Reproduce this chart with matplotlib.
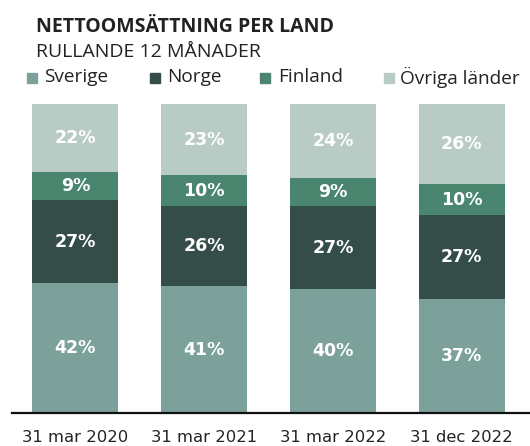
import matplotlib
matplotlib.use("Agg")
from matplotlib import pyplot as plt
from matplotlib.patches import Rectangle
import numpy as np

dates = ["31 mar 2020", "31 mar 2021", "31 mar 2022", "31 dec 2022"]
sverige = [42, 41, 40, 37]
norge = [27, 26, 27, 27]
finland = [9, 10, 9, 10]
ovriga = [22, 23, 24, 26]

series = [
    ("Sverige", sverige, "#7ca19b"),
    ("Norge", norge, "#344d48"),
    ("Finland", finland, "#4a856f"),
    ("Övriga länder", ovriga, "#b9cbc5"),
]

fig = plt.figure(figsize=(5.30, 4.46), dpi=100)
ax = fig.add_axes([12 / 530, 1 - 413 / 446, 518 / 530, (413 - 104) / 446])

x = np.arange(len(dates))
bottom = np.zeros(len(dates))
for name, vals, color in series:
    vals = np.array(vals, dtype=float)
    ax.bar(x, vals, bottom=bottom, width=0.667, color=color, linewidth=0)
    for xi, b, v in zip(x, bottom, vals):
        ax.text(xi, b + v / 2, f"{int(v)}%", ha="center", va="center",
                color="white", fontsize=12.5, fontweight="bold",
                family="DejaVu Sans")
    bottom += vals

ax.set_xlim(-0.492, 3.531)
ax.set_ylim(0, 100)
for s in ["top", "right", "left"]:
    ax.spines[s].set_visible(False)
ax.spines["bottom"].set_linewidth(1.6)
ax.spines["bottom"].set_color("#111111")
ax.set_yticks([])
ax.set_xticks(x)
ax.set_xticklabels(dates, fontsize=11.8, color="#222222", family="DejaVu Sans")
ax.tick_params(axis="x", length=0, pad=12)

fig.text(36 / 530, 1 - 27 / 446, "NETTOOMSÄTTNING PER LAND", fontsize=14,
         fontweight="bold", color="#222222", va="center", family="Open Sans")
fig.text(36 / 530, 1 - 52 / 446, "RULLANDE 12 MÅNADER", fontsize=14,
         color="#222222", va="center", family="Open Sans")

legend_sq = [27, 150, 260, 384]
legend_tx = [44, 167, 278, 400]
for (name, _, color), sx, tx in zip(series, legend_sq, legend_tx):
    fig.patches.append(Rectangle((sx / 530, 1 - 83 / 446), 10 / 530, 10 / 446,
                                 transform=fig.transFigure, color=color))
    fig.text(tx / 530, 1 - 77 / 446, name, fontsize=13.7,
             color="#222222", va="center", family="Open Sans")

fig.savefig("out.png", dpi=100)
